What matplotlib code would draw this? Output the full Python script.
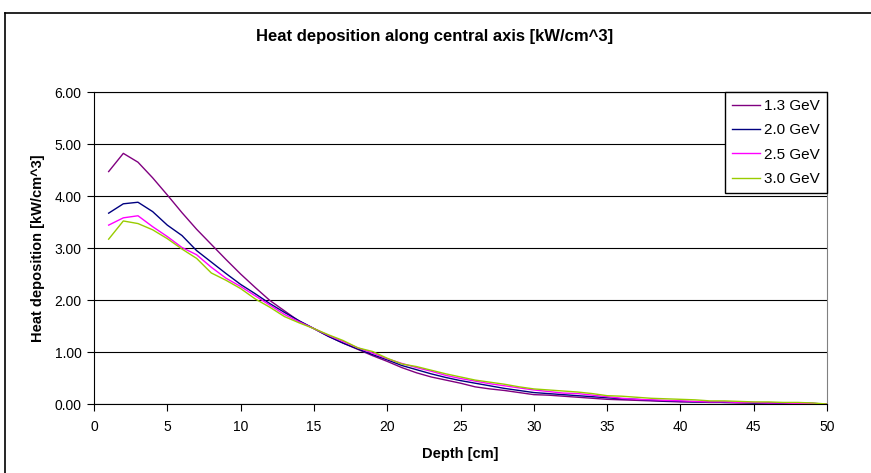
import matplotlib
matplotlib.use("Agg")
import matplotlib.pyplot as plt
from matplotlib.lines import Line2D

plt.rcParams['font.family'] = ['Liberation Sans', 'DejaVu Sans']

depth = list(range(1, 51))

gev_1_3 = [4.47, 4.82, 4.65, 4.35, 4.02, 3.68, 3.36, 3.07, 2.78, 2.50,
           2.24, 1.99, 1.79, 1.59, 1.45, 1.30, 1.17, 1.05, 0.93, 0.82,
           0.70, 0.60, 0.52, 0.46, 0.40, 0.33, 0.29, 0.26, 0.22, 0.18,
           0.17, 0.15, 0.13, 0.11, 0.09, 0.08, 0.07, 0.06, 0.05, 0.04,
           0.04, 0.03, 0.03, 0.02, 0.02, 0.02, 0.01, 0.01, 0.01, 0.00]

gev_2_0 = [3.67, 3.85, 3.88, 3.70, 3.44, 3.24, 2.95, 2.73, 2.51, 2.30,
           2.12, 1.93, 1.76, 1.60, 1.45, 1.30, 1.17, 1.06, 0.95, 0.85,
           0.74, 0.66, 0.58, 0.51, 0.45, 0.40, 0.35, 0.30, 0.26, 0.22,
           0.20, 0.18, 0.16, 0.14, 0.12, 0.10, 0.09, 0.07, 0.06, 0.05,
           0.04, 0.04, 0.03, 0.03, 0.02, 0.02, 0.01, 0.01, 0.01, 0.00]

gev_2_5 = [3.44, 3.58, 3.62, 3.41, 3.22, 3.01, 2.87, 2.63, 2.42, 2.26,
           2.08, 1.90, 1.72, 1.58, 1.45, 1.32, 1.20, 1.08, 0.98, 0.87,
           0.78, 0.70, 0.63, 0.55, 0.49, 0.44, 0.39, 0.35, 0.31, 0.27,
           0.24, 0.21, 0.20, 0.17, 0.14, 0.11, 0.09, 0.08, 0.07, 0.06,
           0.05, 0.04, 0.04, 0.03, 0.03, 0.02, 0.02, 0.01, 0.01, 0.00]

gev_3_0 = [3.17, 3.52, 3.47, 3.35, 3.18, 2.98, 2.80, 2.52, 2.38, 2.22,
           2.02, 1.86, 1.68, 1.56, 1.45, 1.33, 1.22, 1.08, 1.01, 0.88,
           0.77, 0.72, 0.65, 0.58, 0.52, 0.46, 0.42, 0.38, 0.33, 0.29,
           0.27, 0.25, 0.23, 0.20, 0.16, 0.15, 0.13, 0.11, 0.10, 0.09,
           0.08, 0.06, 0.06, 0.05, 0.04, 0.04, 0.03, 0.03, 0.02, 0.00]

series_labels = ['1.3 GeV', '2.0 GeV', '2.5 GeV', '3.0 GeV']
series_values = [gev_1_3, gev_2_0, gev_2_5, gev_3_0]
series_colors = ['#800080', '#000080', '#FF00FF', '#99CC00']

x_ticks = [0, 5, 10, 15, 20, 25, 30, 35, 40, 45, 50]
y_ticks = [0, 1, 2, 3, 4, 5, 6]

W, H = 871, 473
fig = plt.figure(figsize=(W / 100, H / 100), dpi=100)
fig.patch.set_facecolor('white')

# outer chart border
fig.add_artist(Line2D([5 / W, 5 / W], [1 - 13 / H, 0], transform=fig.transFigure,
                      color='black', lw=1.2))
fig.add_artist(Line2D([5 / W, 1], [1 - 13 / H, 1 - 13 / H], transform=fig.transFigure,
                      color='black', lw=1.2))

left, right, top, bottom = 94, 827, 92, 404
ax = fig.add_axes([left / W, 1 - bottom / H, (right - left) / W, (bottom - top) / H])

for lab, vals, col in zip(series_labels, series_values, series_colors):
    ax.plot(depth, vals, color=col, lw=1.0, label=lab, zorder=3)

ax.set_xlim(0, 50)
ax.set_ylim(0, 6)
ax.set_xticks(x_ticks)
ax.set_yticks(y_ticks)
ax.set_yticklabels([f"{v:.2f}" for v in y_ticks])
ax.set_xticklabels([str(v) for v in x_ticks])

ax.set_axisbelow(True)
ax.yaxis.grid(True, color='black', lw=0.8)
ax.xaxis.grid(False)

for s in ['left', 'bottom', 'top']:
    ax.spines[s].set_color('black')
    ax.spines[s].set_linewidth(0.8)
ax.spines['right'].set_color('#808080')
ax.spines['right'].set_linewidth(0.8)

ax.tick_params(axis='both', direction='out', length=5, width=0.8, colors='black',
               labelsize=10)
ax.tick_params(axis='y', pad=4)
ax.tick_params(axis='x', pad=6.5)

fig.text(435 / W, 1 - 37 / H, 'Heat deposition along central axis [kW/cm^3]',
         ha='center', va='center', fontsize=12, fontweight='bold')
ax.set_xlabel('Depth [cm]', fontsize=10.5, fontweight='bold')
ax.xaxis.set_label_coords(0.5, -(454 - bottom) / (bottom - top), transform=ax.transAxes)
ax.xaxis.label.set_va('center')
ax.set_ylabel('Heat deposition [kW/cm^3]', fontsize=10.5, fontweight='bold')
ax.yaxis.set_label_coords(-(left - 38) / (right - left), 0.5, transform=ax.transAxes)
ax.yaxis.label.set_va('center')

leg = ax.legend(loc='upper right', bbox_to_anchor=(1, 1), borderaxespad=0,
                frameon=True, fancybox=False, edgecolor='black', framealpha=1,
                fontsize=11, handlelength=1.85, handletextpad=0.3,
                labelspacing=0.68, borderpad=0.45)
leg.get_frame().set_linewidth(1.0)

fig.savefig('out.png', dpi=100, facecolor='white')
